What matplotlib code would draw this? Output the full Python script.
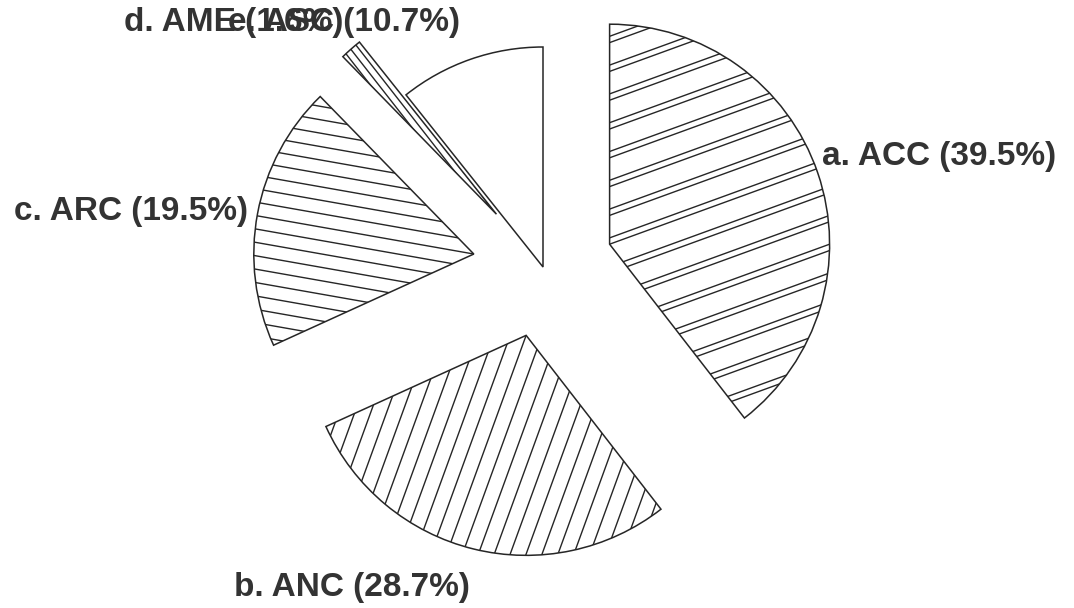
import matplotlib
matplotlib.use("Agg")
import matplotlib.pyplot as plt
import numpy as np

# Anteile der Kategorien in Prozent
kategorien = ["a. ACC", "b. ANC", "c. ARC", "d. AME", "e. ASC"]
anteile = [39.5, 28.7, 19.5, 1.6, 10.7]
herausgezogen = [0.32, 0.32, 0.32, 0.32, 0.0]

# Schraffur je Segment: (Winkel in Grad, Linienabstand, Abstand der Doppellinie)
schraffur = [(20, 0.123, 0.027), (70, 0.068, 0.0), (-10, 0.06, 0.0), (128, 0.03, 0.0), None]

# Beschriftungen: Ankerpunkt (Datenkoordinaten) und Ausrichtung
beschriftung_xy = [(1.268, 0.50), (-0.332, -1.455), (-1.341, 0.25), (-0.909, 1.11), (-0.377, 1.11)]
beschriftung_ha = ["left", "right", "right", "right", "right"]

linienfarbe = "#262626"
textfarbe = "#333333"


def schraffiere(ax, keil, winkel, abstand, doppel):
    t = np.radians(winkel)
    d = np.array([np.cos(t), np.sin(t)])
    n = np.array([-np.sin(t), np.cos(t)])
    mitte = np.array(keil.center)
    kmax = int(1.3 / abstand) + 1
    versatz = [0.0, doppel] if doppel else [0.0]
    for k in range(-kmax, kmax + 1):
        for off in versatz:
            p = mitte + n * (k * abstand + off)
            a = p - 2 * d
            b = p + 2 * d
            linie, = ax.plot([a[0], b[0]], [a[1], b[1]], color=linienfarbe, lw=1.0,
                             solid_capstyle="butt")
            linie.set_clip_path(keil)


fig = plt.figure(figsize=(10.74, 6.08), dpi=100)
fig.patch.set_facecolor("white")
ax = fig.add_axes([0, 0, 1, 1])

keile, _ = ax.pie(anteile, explode=herausgezogen, startangle=90, counterclock=False,
                  radius=1.0, wedgeprops=dict(facecolor="white", edgecolor=linienfarbe,
                                              linewidth=1.1))

for keil, s in zip(keile, schraffur):
    if s is not None:
        schraffiere(ax, keil, *s)

for name, wert, (x, y), ha in zip(kategorien, anteile, beschriftung_xy, beschriftung_ha):
    ax.text(x, y, f"{name} ({wert}%)", ha=ha, va="center", fontsize=24,
            fontweight="bold", family="Liberation Sans", color=textfarbe)

# Mittelpunkt bei Pixel (543, 267), Radius = 220 Pixel
px = 220.0
ax.set_xlim(-543 / px, (1074 - 543) / px)
ax.set_ylim(-(608 - 267) / px, 267 / px)
ax.set_aspect("equal", adjustable="box")
ax.axis("off")

fig.savefig("out.png", dpi=100, facecolor="white")
